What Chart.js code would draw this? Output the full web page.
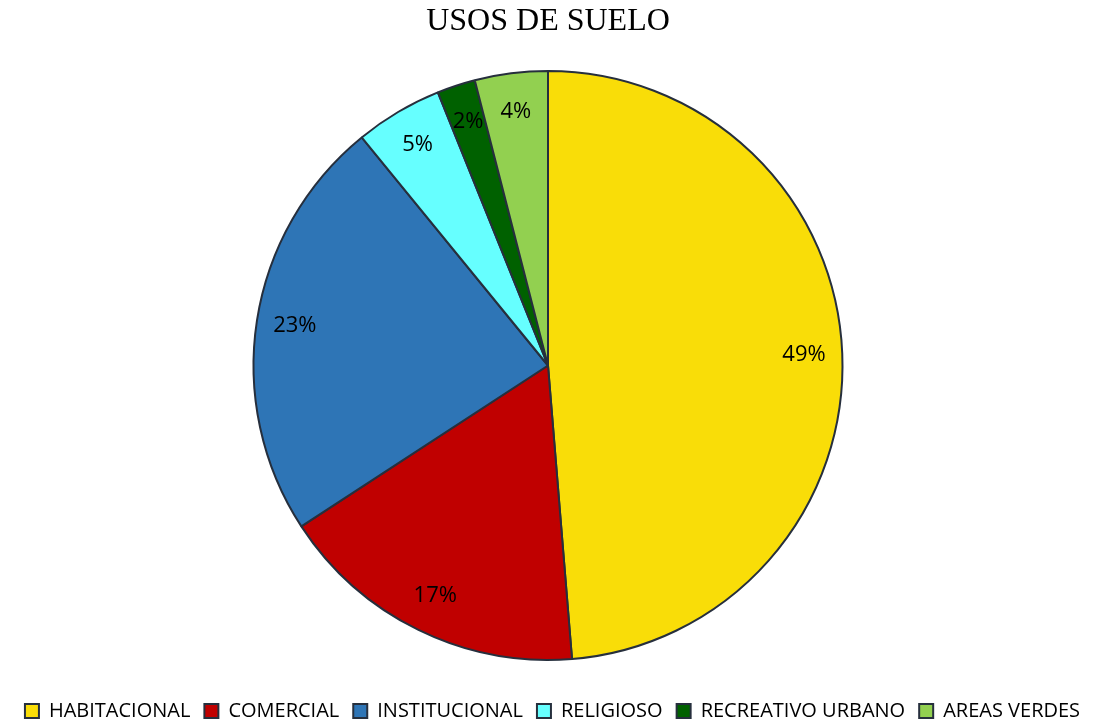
<!DOCTYPE html>
<html><head><meta charset="utf-8">
<script src="https://cdn.jsdelivr.net/npm/chart.js@4"></script>
<style>html,body{margin:0;padding:0;background:#fff}#wrap{width:1105px;height:723px}</style>
</head><body><div id="wrap"><canvas id="c" width="1105" height="723"></canvas></div>
<script>
const categories = ['HABITACIONAL','COMERCIAL','INSTITUCIONAL','RELIGIOSO','RECREATIVO URBANO','AREAS VERDES'];
const values = [48.7, 17.1, 23.3, 4.8, 2.1, 4.0];
const colors = ['#F9DD08','#C00000','#2E75B6','#66FFFF','#006100','#92D050'];
const titleText = 'USOS DE SUELO';

const labelPlugin = {
  id: 'pctLabels',
  afterDatasetsDraw(chart) {
    const ctx = chart.ctx;
    const meta = chart.getDatasetMeta(0);
    const data = chart.data.datasets[0].data;
    const total = data.reduce((a, b) => a + b, 0);
    ctx.save();
    ctx.font = '22px "Open Sans", sans-serif';
    ctx.fillStyle = '#000';
    ctx.textAlign = 'center';
    ctx.textBaseline = 'middle';
    meta.data.forEach((arc, i) => {
      const p = arc.getProps(['x','y','startAngle','endAngle','outerRadius']);
      const mid = (p.startAngle + p.endAngle) / 2;
      const r = p.outerRadius * 0.87;
      const txt = Math.round(data[i] / total * 100) + '%';
      ctx.fillText(txt, p.x + Math.cos(mid) * r, p.y + Math.sin(mid) * r);
    });
    ctx.restore();
  }
};

// move the legend down into the bottom margin and re-centre it
const LEGEND_PAD = 14;
const legendShift = {
  id: 'legendShift',
  afterLayout(chart) {
    const lg = chart.legend;
    if (!lg) return;
    const dy = 713 - (lg.top + LEGEND_PAD + 12);
    const dx = 4.5;
    lg.top += dy; lg.bottom += dy;
    lg.left += dx; lg.right += dx;
    if (lg.legendHitBoxes) lg.legendHitBoxes.forEach(h => { h.top += dy; h.left += dx; });
  }
};

new Chart(document.getElementById('c'), {
  type: 'pie',
  data: {
    labels: categories,
    datasets: [{
      data: values,
      backgroundColor: colors,
      borderColor: '#262F3D',
      borderWidth: 2,
      hoverOffset: 0
    }]
  },
  options: {
    responsive: false,
    animation: false,
    layout: { padding: { top: 0, bottom: 18, left: 0, right: 9 } },
    plugins: {
      title: {
        display: true,
        text: titleText,
        color: '#000',
        font: { family: '"Liberation Serif", serif', size: 32, weight: 'normal' },
        padding: { top: 2, bottom: 29.6 }
      },
      legend: {
        position: 'bottom',
        labels: {
          color: '#000',
          font: { family: '"Open Sans", sans-serif', size: 20 },
          boxWidth: 14,
          boxHeight: 14,
          padding: LEGEND_PAD
        }
      },
      tooltip: { enabled: false }
    }
  },
  plugins: [labelPlugin, legendShift]
});
</script>
</body></html>
